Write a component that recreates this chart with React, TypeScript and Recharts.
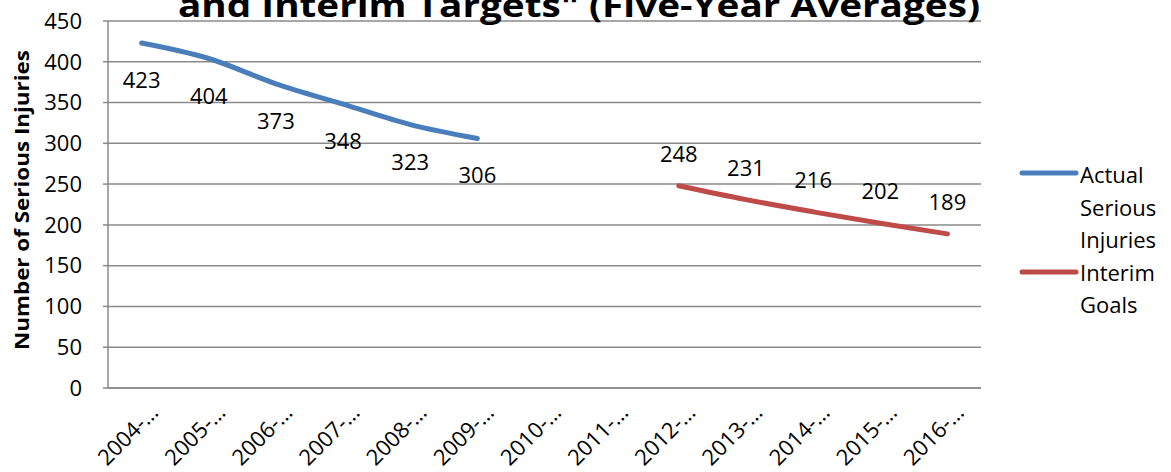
import React from "react"
import {
  LineChart,
  Line,
  XAxis,
  YAxis,
  CartesianGrid,
  LabelList,
} from "recharts"

const periods = [
  "2004-…", "2005-…", "2006-…", "2007-…", "2008-…", "2009-…", "2010-…",
  "2011-…", "2012-…", "2013-…", "2014-…", "2015-…", "2016-…",
]
const actualInjuries = [423, 404, 373, 348, 323, 306, null, null, null, null, null, null, null]
const interimGoals = [null, null, null, null, null, null, null, null, 248, 231, 216, 202, 189]
const yTicks = [0, 50, 100, 150, 200, 250, 300, 350, 400, 450]
const legendLines = ["Actual", "Serious", "Injuries", "Interim", "Goals"]

const data = periods.map((p, i) => ({
  period: p,
  actual: actualInjuries[i],
  goal: interimGoals[i],
}))

const FONT = "'Open Sans', sans-serif"
const BLUE = "#4A7EBB"
const RED = "#BE4B48"
const GRID = "#8A8A8A"

function XTick(props: any) {
  const { x, y, payload } = props
  return (
    <text
      x={x + 18}
      y={y + 26}
      transform={`rotate(-45 ${x + 18} ${y + 26})`}
      textAnchor="end"
      fontFamily={FONT}
      fontSize={22}
      fill="#000"
    >
      {payload.value}
    </text>
  )
}

function makeLabel(dy: number) {
  return (props: any) => {
    const { x, y, value } = props
    if (value == null) return null
    return (
      <text
        x={x}
        y={y + dy}
        textAnchor="middle"
        dominantBaseline="central"
        fontFamily={FONT}
        fontSize={22}
        fill="#000"
      >
        {value}
      </text>
    )
  }
}

export default function App() {
  return (
    <div style={{ position: "absolute", left: 0, top: 0, width: 1171, height: 472, background: "#fff" }}>
      <LineChart
        width={1171}
        height={472}
        data={data}
        margin={{ top: 21, right: 190, bottom: 0, left: 0 }}
      >
        <CartesianGrid vertical={false} stroke={GRID} strokeWidth={1.5} />
        <XAxis
          dataKey="period"
          height={84}
          padding={{ left: 33.6, right: 33.6 }}
          axisLine={{ stroke: GRID, strokeWidth: 1.5 }}
          tickLine={false}
          tickSize={0}
          tickMargin={0}
          interval={0}
          tick={<XTick />}
        />
        <YAxis
          width={108}
          domain={[0, 450]}
          ticks={yTicks}
          interval={0}
          axisLine={{ stroke: GRID, strokeWidth: 1.5 }}
          tickLine={{ stroke: GRID, strokeWidth: 1.5 }}
          tickSize={5}
          tickMargin={21}
          tick={{ fontFamily: FONT, fontSize: 22, fill: "#000" }}
        />
        <Line
          type="monotone"
          dataKey="actual"
          stroke={BLUE}
          strokeWidth={5}
          strokeLinecap="round"
          dot={false}
          isAnimationActive={false}
        >
          <LabelList dataKey="actual" content={makeLabel(36)} />
        </Line>
        <Line
          type="monotone"
          dataKey="goal"
          stroke={RED}
          strokeWidth={5}
          strokeLinecap="round"
          dot={false}
          isAnimationActive={false}
        >
          <LabelList dataKey="goal" content={makeLabel(-33)} />
        </Line>
      </LineChart>
      <svg
        width={1171}
        height={472}
        style={{ position: "absolute", left: 0, top: 0, pointerEvents: "none" }}
      >
        <text
          x={178}
          y={17}
          textLength={802}
          lengthAdjust="spacingAndGlyphs"
          fontFamily={FONT}
          fontSize={32}
          fontWeight={700}
          fill="#000"
        >
          and Interim Targets"  (Five-Year Averages)
        </text>
        <text
          x={22}
          y={200}
          transform="rotate(-90 22 200)"
          textAnchor="middle"
          dominantBaseline="central"
          textLength={300}
          lengthAdjust="spacingAndGlyphs"
          fontFamily={FONT}
          fontSize={19}
          fontWeight={700}
          fill="#000"
        >
          Number of Serious Injuries
        </text>
        <line x1={1022} y1={173} x2={1076} y2={173} stroke={BLUE} strokeWidth={5} strokeLinecap="round" />
        <line x1={1022} y1={272} x2={1076} y2={272} stroke={RED} strokeWidth={5} strokeLinecap="round" />
        {legendLines.map((t, i) => (
          <text
            key={t}
            x={1080}
            y={174 + i * 32.5}
            dominantBaseline="central"
            fontFamily={FONT}
            fontSize={22}
            fill="#000"
          >
            {t}
          </text>
        ))}
      </svg>
    </div>
  )
}
